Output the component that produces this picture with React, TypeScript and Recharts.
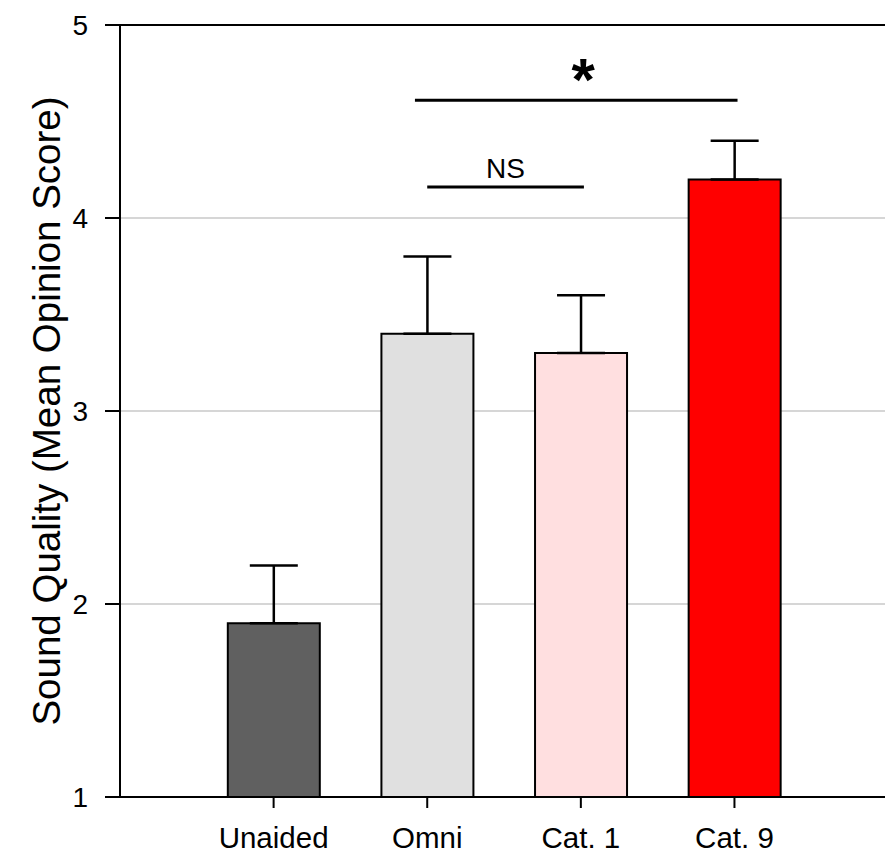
import React from 'react';
import {
  BarChart,
  Bar,
  XAxis,
  YAxis,
  CartesianGrid,
  ReferenceLine,
  ErrorBar,
  Cell,
} from 'recharts';

const categories = ['Unaided', 'Omni', 'Cat. 1', 'Cat. 9'];
const positions = [1, 2, 3, 4];
const means = [1.9, 3.4, 3.3, 4.2];
const errors = [0.3, 0.4, 0.3, 0.2];
const colors = ['#606060', '#e0e0e0', '#ffdfe0', '#ff0000'];
const yTicks = [1, 2, 3, 4, 5];

const nsLine = { x1: 2.0, x2: 3.02, y: 4.16, label: 'NS' };
const starLine = { x1: 1.92, x2: 4.02, y: 4.61, label: '*' };

const data = categories.map((name, i) => ({
  name,
  pos: positions[i],
  mean: means[i],
  err: [0, errors[i]],
}));

const FONT = 'Arial, "Liberation Sans", Helvetica, sans-serif';

export default function App() {
  return (
    <div style={{ position: 'absolute', left: 0, top: 0 }}>
      <BarChart
        width={885}
        height={854}
        data={data}
        margin={{ top: 25, right: 0, bottom: 0, left: 0 }}
      >
        <CartesianGrid horizontal vertical={false} stroke="#c8c8c8" strokeWidth={1.5} />
        <XAxis
          dataKey="pos"
          type="number"
          domain={[0, 4.98]}
          ticks={positions}
          tickFormatter={(v: number) => categories[positions.indexOf(v)] ?? ''}
          height={57}
          tickSize={11}
          tickMargin={19}
          stroke="#000"
          strokeWidth={2}
          tick={{ fill: '#000', fontSize: 29.5, fontFamily: FONT }}
          interval={0}
          allowDataOverflow
        />
        <YAxis
          type="number"
          domain={[1, 5]}
          ticks={yTicks}
          width={120}
          tickSize={15}
          tickMargin={17}
          stroke="#000"
          strokeWidth={2}
          tick={{ fill: '#000', fontSize: 28, fontFamily: FONT }}
          interval={0}
          allowDataOverflow
          label={{
            value: 'Sound Quality (Mean Opinion Score)',
            angle: -90,
            position: 'center',
            dx: -14,
            style: { fontSize: 38.5, fontFamily: FONT, fill: '#000', textAnchor: 'middle' },
          }}
        />
        <ReferenceLine y={5} stroke="#000" strokeWidth={2} />
        <Bar dataKey="mean" barSize={92} stroke="#000" strokeWidth={2} isAnimationActive={false}>
          {data.map((d, i) => (
            <Cell key={d.name} fill={colors[i]} />
          ))}
          <ErrorBar dataKey="err" width={24} stroke="#000" strokeWidth={2.5} isAnimationActive={false} />
        </Bar>
        <ReferenceLine
          segment={[
            { x: nsLine.x1, y: nsLine.y },
            { x: nsLine.x2, y: nsLine.y },
          ]}
          stroke="#000"
          strokeWidth={3}
          label={{
            value: nsLine.label,
            position: 'top',
            offset: 9,
            style: { fontSize: 28, fontFamily: FONT, fill: '#000' },
          }}
        />
        <ReferenceLine
          segment={[
            { x: starLine.x1, y: starLine.y },
            { x: starLine.x2, y: starLine.y },
          ]}
          stroke="#000"
          strokeWidth={3}
          label={{
            value: starLine.label,
            position: 'top',
            offset: 0,
            dx: 7,
            style: { fontSize: 60, fontWeight: 'bold', fontFamily: FONT, fill: '#000' },
          }}
        />
      </BarChart>
    </div>
  );
}
